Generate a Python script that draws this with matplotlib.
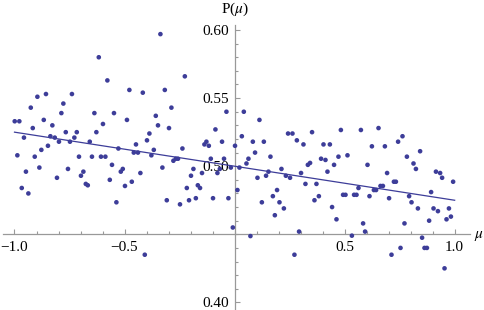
import numpy as np
import matplotlib
matplotlib.use("Agg")
import matplotlib.pyplot as plt
from matplotlib.ticker import FixedLocator, MultipleLocator, FixedFormatter

plt.rcParams['font.family'] = ['Liberation Serif', 'DejaVu Serif']
plt.rcParams['mathtext.fontset'] = 'stix'

# scatter data (mu, P)
mu = [-0.999, -0.978, -0.957, -0.987, -0.926, -0.917, -0.896, -0.908, -0.878, -0.867,
      -0.857, -0.848, -0.837, -0.828, -0.817, -0.798, -0.787, -0.778, -0.767, -0.748,
      -0.739, -0.728, -0.717, -0.707, -0.658, -0.648, -0.637, -0.628, -0.617, -0.607,
      -0.598, -0.587, -0.578, -0.548, -0.528, -0.489, -0.478, -0.458, -0.448, -0.439,
      -0.417, -0.398, -0.387, -0.378, -0.367, -0.358, -0.348, -0.337, -0.317, -0.298,
      -0.287, -0.267, -0.257, -0.278, -0.237, -0.226, -0.137, -0.128, -0.117, -0.108,
      -0.087, -0.057, -0.048, -0.037, 0.002, 0.033, 0.042,
      -0.948, -0.967, -0.937, -0.887, -0.807, -0.757, -0.698, -0.687, -0.676, -0.667,
      -0.567, -0.557, -0.537, -0.517, -0.508, -0.498, -0.467, -0.428, -0.408, -0.328,
      -0.308, -0.248, -0.217, -0.207, -0.198, -0.187, -0.176, -0.167, -0.157, -0.148,
      -0.098, -0.078, -0.067, -0.028, -0.017, -0.008, 0.013, 0.022,
      0.113, 0.083, 0.133, 0.093, 0.063, 0.163, 0.243, 0.263, 0.283, 0.313,
      0.352, 0.404, 0.433, 0.393, 0.413, 0.472, 0.483, 0.513, 0.574, 0.624,
      0.654, 0.683, 0.743, 0.763, 0.783, 0.843,
      0.054, 0.072, 0.104, 0.124, 0.143, 0.154, 0.174, 0.183, 0.193, 0.204,
      0.213, 0.224, 0.233, 0.252, 0.293, 0.272, 0.302, 0.322, 0.333, 0.343,
      0.363, 0.372, 0.383, 0.422, 0.443, 0.452, 0.463, 0.493, 0.504, 0.533,
      0.543, 0.554, 0.563, 0.584, 0.593, 0.604, 0.613, 0.633, 0.643, 0.663,
      0.674, 0.693, 0.702, 0.713, 0.724, 0.733, 0.754, 0.772, 0.793, 0.804,
      0.813, 0.824, 0.833, 0.852, 0.863, 0.874, 0.884, 0.893, 0.904, 0.915,
      0.924, 0.934, 0.943, 0.954, 0.963, 0.974, 0.983, 0.993]
p = [0.533, 0.533, 0.521, 0.508, 0.543, 0.528, 0.551, 0.507, 0.512, 0.534,
     0.553, 0.515, 0.522, 0.530, 0.521, 0.518, 0.539, 0.546, 0.525, 0.518,
     0.553, 0.521, 0.525, 0.507, 0.518, 0.507, 0.539, 0.525, 0.580, 0.507,
     0.531, 0.507, 0.563, 0.539, 0.513, 0.534, 0.556, 0.510, 0.516, 0.510,
     0.554, 0.519, 0.524, 0.508, 0.512, 0.537, 0.530, 0.597, 0.556, 0.528,
     0.543, 0.5055, 0.5055, 0.504, 0.513, 0.566, 0.516, 0.518, 0.515, 0.5055,
     0.527, 0.518, 0.5055, 0.540, 0.515, 0.522, 0.540,
     0.496, 0.484, 0.480, 0.499, 0.4915, 0.498, 0.493, 0.496, 0.487, 0.486,
     0.490, 0.501, 0.4735, 0.496, 0.498, 0.4855, 0.4886, 0.495, 0.435, 0.499,
     0.475, 0.472, 0.484, 0.475, 0.493, 0.498, 0.4765, 0.486, 0.484, 0.495,
     0.4765, 0.495, 0.498, 0.4765, 0.499, 0.455, 0.4825, 0.499,
     0.534, 0.518, 0.518, 0.510, 0.5055, 0.507, 0.524, 0.524, 0.519, 0.516,
     0.525, 0.516, 0.516, 0.5055, 0.5046, 0.507, 0.5266, 0.508, 0.5266, 0.5146,
     0.528, 0.5146, 0.518, 0.522, 0.507, 0.511,
     0.502, 0.4487, 0.4915, 0.4735, 0.493, 0.496, 0.478, 0.464, 0.4825, 0.4735,
     0.498, 0.469, 0.493, 0.4915, 0.452, 0.435, 0.495, 0.487, 0.501, 0.5024,
     0.475, 0.487, 0.478, 0.496, 0.470, 0.501, 0.461, 0.479, 0.479, 0.449,
     0.479, 0.479, 0.484, 0.458, 0.452, 0.501, 0.478, 0.4825, 0.4825, 0.4855,
     0.4855, 0.495, 0.4765, 0.435, 0.4886, 0.4886, 0.440, 0.458, 0.478, 0.4735,
     0.502, 0.498, 0.469, 0.4475, 0.440, 0.440, 0.460, 0.481, 0.469, 0.496,
     0.467, 0.495, 0.4915, 0.425, 0.461, 0.469, 0.463, 0.4886]

# fitted line end points
fit_x = [-1.0, 1.0]
fit_y = [0.525, 0.475]

x_major = [-1.0, -0.5, 0.5, 1.0]
x_labels = ["\u22121.0", "\u22120.5", "0.5", "1.0"]
y_major = [0.40, 0.50, 0.55, 0.60]
y_labels = ["0.40", "0.50", "0.55", "0.60"]

col = '#3d3d99'
axcol = '#999999'

fig = plt.figure(figsize=(4.85, 3.10), dpi=100)
ax = fig.add_axes([0.0072, 0.0026, 0.962, 0.9168])
ax.set_xlim(-1.05, 1.07)
ax.set_ylim(0.395, 0.6037)

ax.scatter(mu, p, s=11, color=col, edgecolors='none', zorder=3, clip_on=False)
ax.plot(fit_x, fit_y, color=col, lw=0.9, zorder=3)

for s in ['top', 'right']:
    ax.spines[s].set_visible(False)
ax.spines['left'].set_position(('data', 0.0))
ax.spines['bottom'].set_position(('data', 0.45))
for s in ['left', 'bottom']:
    ax.spines[s].set_color(axcol)
    ax.spines[s].set_linewidth(0.9)

ax.xaxis.set_major_locator(FixedLocator(x_major))
ax.xaxis.set_major_formatter(FixedFormatter(x_labels))
ax.xaxis.set_minor_locator(MultipleLocator(0.1))
ax.yaxis.set_major_locator(FixedLocator(y_major))
ax.yaxis.set_major_formatter(FixedFormatter(y_labels))
ax.yaxis.set_minor_locator(MultipleLocator(0.01))

ax.tick_params(which='both', direction='in', color=axcol, width=0.8, labelsize=11)
ax.tick_params(which='major', length=3.5)
ax.tick_params(which='minor', length=2.0)
ax.tick_params(axis='x', which='major', pad=5)
ax.tick_params(axis='y', which='major', pad=4)

ax.annotate("P($\\mu$)", xy=(0, 0.6037), xytext=(0, 11), textcoords='offset points',
            ha='center', va='center', fontsize=11, annotation_clip=False)
ax.annotate("$\\mu$", xy=(1.07, 0.45), xytext=(2.5, -1.5), textcoords='offset points',
            ha='left', va='center', fontsize=11, annotation_clip=False)

fig.savefig("out.png", dpi=100)
